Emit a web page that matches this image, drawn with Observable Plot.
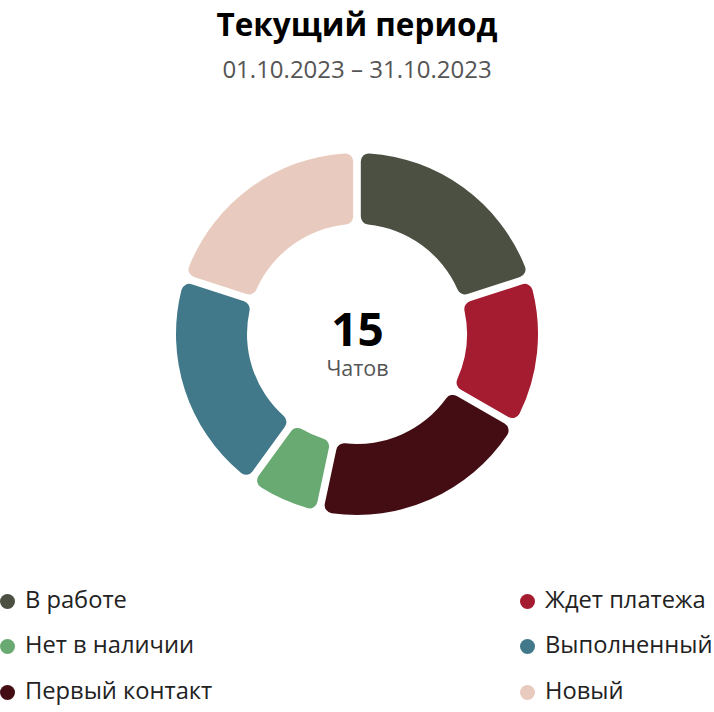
<!DOCTYPE html>
<html><head><meta charset="utf-8">
<script src="https://cdn.jsdelivr.net/npm/d3@7"></script>
<script src="https://cdn.jsdelivr.net/npm/@observablehq/plot@0.6"></script>
<style>
body{margin:0;background:#fff;font-family:"Open Sans",sans-serif;}
#wrap{position:relative;width:714px;height:712px;overflow:hidden;}
.abs{position:absolute;left:0;width:714px;text-align:center;line-height:1;white-space:nowrap;}
#title{top:8px;font-size:31.5px;font-weight:700;color:#000;}
#sub{top:57px;font-size:24px;color:#555;}
#chart{position:absolute;left:0;top:100px;}
.leg{position:absolute;font-size:23.7px;line-height:1;color:#222;white-space:nowrap;}
.dot{position:absolute;width:15px;height:15px;border-radius:50%;}
</style></head>
<body><div id="wrap">
<div id="title" class="abs"></div>
<div id="sub" class="abs"></div>
<div id="chart"></div>
</div>
<script>
const titleText = "Текущий период";
const subtitleText = "01.10.2023 – 31.10.2023";
const centerValueLabel = "15";
const centerUnitLabel = "Чатов";

// slices in clockwise order from 12 o'clock
const sliceNames = ["В работе", "Ждет платежа", "Первый контакт", "Нет в наличии", "Выполненный", "Новый"];
const sliceValues = [3, 2, 3, 1, 3, 3];
const sliceColors = ["#4b5042", "#a51c30", "#430d13", "#69aa72", "#41798b", "#e8cbbe"];

// legend order (row-major, two columns)
const legendNames = ["В работе", "Ждет платежа", "Нет в наличии", "Выполненный", "Первый контакт", "Новый"];

document.getElementById("title").textContent = titleText;
document.getElementById("sub").textContent = subtitleText;

const W = 714, H = 460;
const outerR = 181, innerR = 110;

const pieData = d3.pie().sort(null).value(d => d.value)(
  sliceNames.map((name, i) => ({name, value: sliceValues[i], color: sliceColors[i]}))
);

const donutMark = (index, scales) => {
  const sx = scales.x, sy = scales.y;
  const cx = sx(0), cy = sy(0);
  const ro = sx(outerR) - sx(0), ri = sx(innerR) - sx(0);
  const arc = d3.arc().innerRadius(ri).outerRadius(ro).cornerRadius(8).padAngle(0.036);
  const g = d3.create("svg:g").attr("transform", `translate(${cx},${cy})`);
  g.selectAll("path").data(pieData).join("path")
    .attr("d", arc).attr("fill", d => d.data.color);
  return g.node();
};

const plot = Plot.plot({
  width: W, height: H,
  margin: 0,
  style: {fontFamily: "Open Sans, sans-serif", background: "transparent", overflow: "visible"},
  x: {domain: [-357, 357], axis: null},
  y: {domain: [-226, 234], axis: null},
  marks: [
    donutMark,
    Plot.text([centerValueLabel], {x: () => 0, y: () => 0, text: d => d, lineAnchor: "bottom", dy: 11, fontSize: 46, fontWeight: 700, fill: "#000"}),
    Plot.text([centerUnitLabel], {x: () => 0, y: () => 0, text: d => d, lineAnchor: "bottom", dy: 41, fontSize: 21.5, fill: "#555"})
  ]
});
document.getElementById("chart").appendChild(plot);

const wrap = document.getElementById("wrap");
const fs = 23.7;
legendNames.forEach((name, i) => {
  const col = i % 2, row = Math.floor(i / 2);
  const dotX = col === 0 ? 0 : 520;
  const txtX = col === 0 ? 25 : 545;
  const base = 609 + row * 45.5;
  const color = sliceColors[sliceNames.indexOf(name)];
  const dot = document.createElement("div");
  dot.className = "dot";
  dot.style.left = dotX + "px"; dot.style.top = (base - 8 - 7.5) + "px"; dot.style.background = color;
  wrap.appendChild(dot);
  const t = document.createElement("div");
  t.className = "leg";
  t.style.left = txtX + "px";
  t.style.top = (base - 0.888 * fs) + "px";
  t.textContent = name;
  wrap.appendChild(t);
});
</script>
</body></html>
